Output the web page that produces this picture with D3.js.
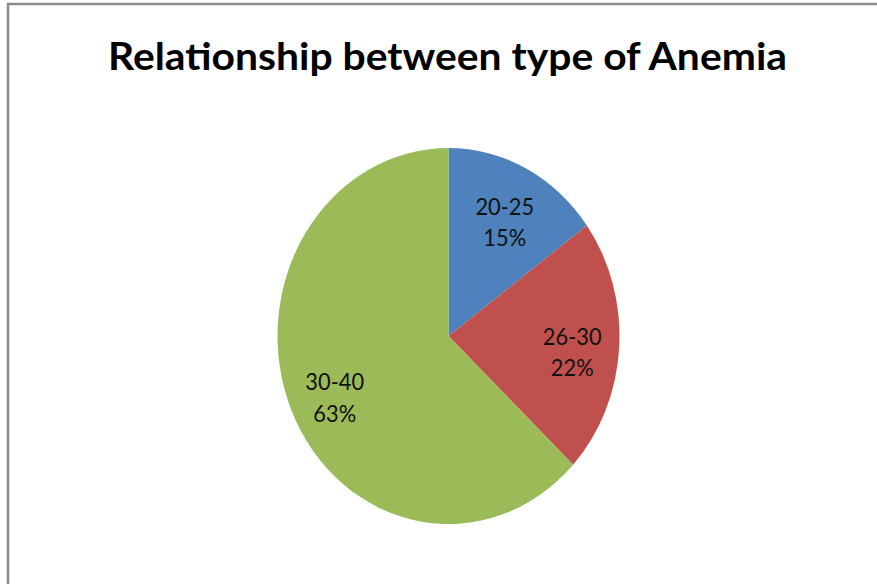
<!DOCTYPE html>
<html>
<head>
<meta charset="utf-8">
<script src="https://cdn.jsdelivr.net/npm/d3@7"></script>
<style>
  html, body { margin: 0; padding: 0; background: #ffffff; }
  svg { display: block; }
</style>
</head>
<body>
<svg id="chart" width="877" height="584"></svg>
<script>
const title = "Relationship between type of Anemia";
const categories = ["20-25", "26-30", "30-40"];
const values = [15, 22, 63];
const colors = ["#4F81BD", "#C0504D", "#9BBB59"];

const W = 877, H = 584;
const svg = d3.select("#chart");

// outer frame (only left and top edges visible in the reference)
svg.append("rect")
  .attr("x", 8).attr("y", 4)
  .attr("width", W + 20).attr("height", H + 20)
  .attr("fill", "none")
  .attr("stroke", "#8c8c8c")
  .attr("stroke-width", 2.5);

// title
svg.append("text")
  .attr("x", 447.5).attr("y", 69.5)
  .attr("text-anchor", "middle")
  .attr("font-family", "Lato, 'Open Sans', sans-serif")
  .attr("font-weight", "bold")
  .attr("font-size", 38)
  .attr("fill", "#000")
  .attr("textLength", 679)
  .attr("lengthAdjust", "spacingAndGlyphs")
  .text(title);

// pie (picture is horizontally compressed -> elliptical pie)
const cx = 448.5, cy = 336, ry = 188, rx = 171;
const sx = rx / ry;

const data = categories.map((c, i) => ({ cat: c, value: values[i], color: colors[i] }));
const pie = d3.pie().sort(null).value(d => d.value);
const arcs = pie(data);
const arc = d3.arc().innerRadius(0).outerRadius(ry);
const labelArc = d3.arc().innerRadius(0).outerRadius(ry * 1.45);

const g = svg.append("g")
  .attr("transform", `translate(${cx},${cy}) scale(${sx},1)`);

g.selectAll("path.slice")
  .data(arcs)
  .enter().append("path")
  .attr("class", "slice")
  .attr("d", arc)
  .attr("fill", d => d.data.color);

const total = d3.sum(values);
const lineH = 31.6;
const labels = g.selectAll("text.lbl")
  .data(arcs)
  .enter().append("text")
  .attr("class", "lbl")
  .attr("text-anchor", "middle")
  .attr("font-family", "Lato, 'Open Sans', sans-serif")
  .attr("font-size", 24)
  .attr("fill", "#111")
  .attr("transform", d => {
    const [x, y] = labelArc.centroid(d);
    return `translate(${x},${y + 8})`;
  });

labels.append("tspan")
  .attr("x", 0)
  .attr("y", -lineH / 2 + 8)
  .text(d => d.data.cat);
labels.append("tspan")
  .attr("x", 0)
  .attr("y", lineH / 2 + 8)
  .text(d => Math.round(d.data.value / total * 100) + "%");
</script>
</body>
</html>
